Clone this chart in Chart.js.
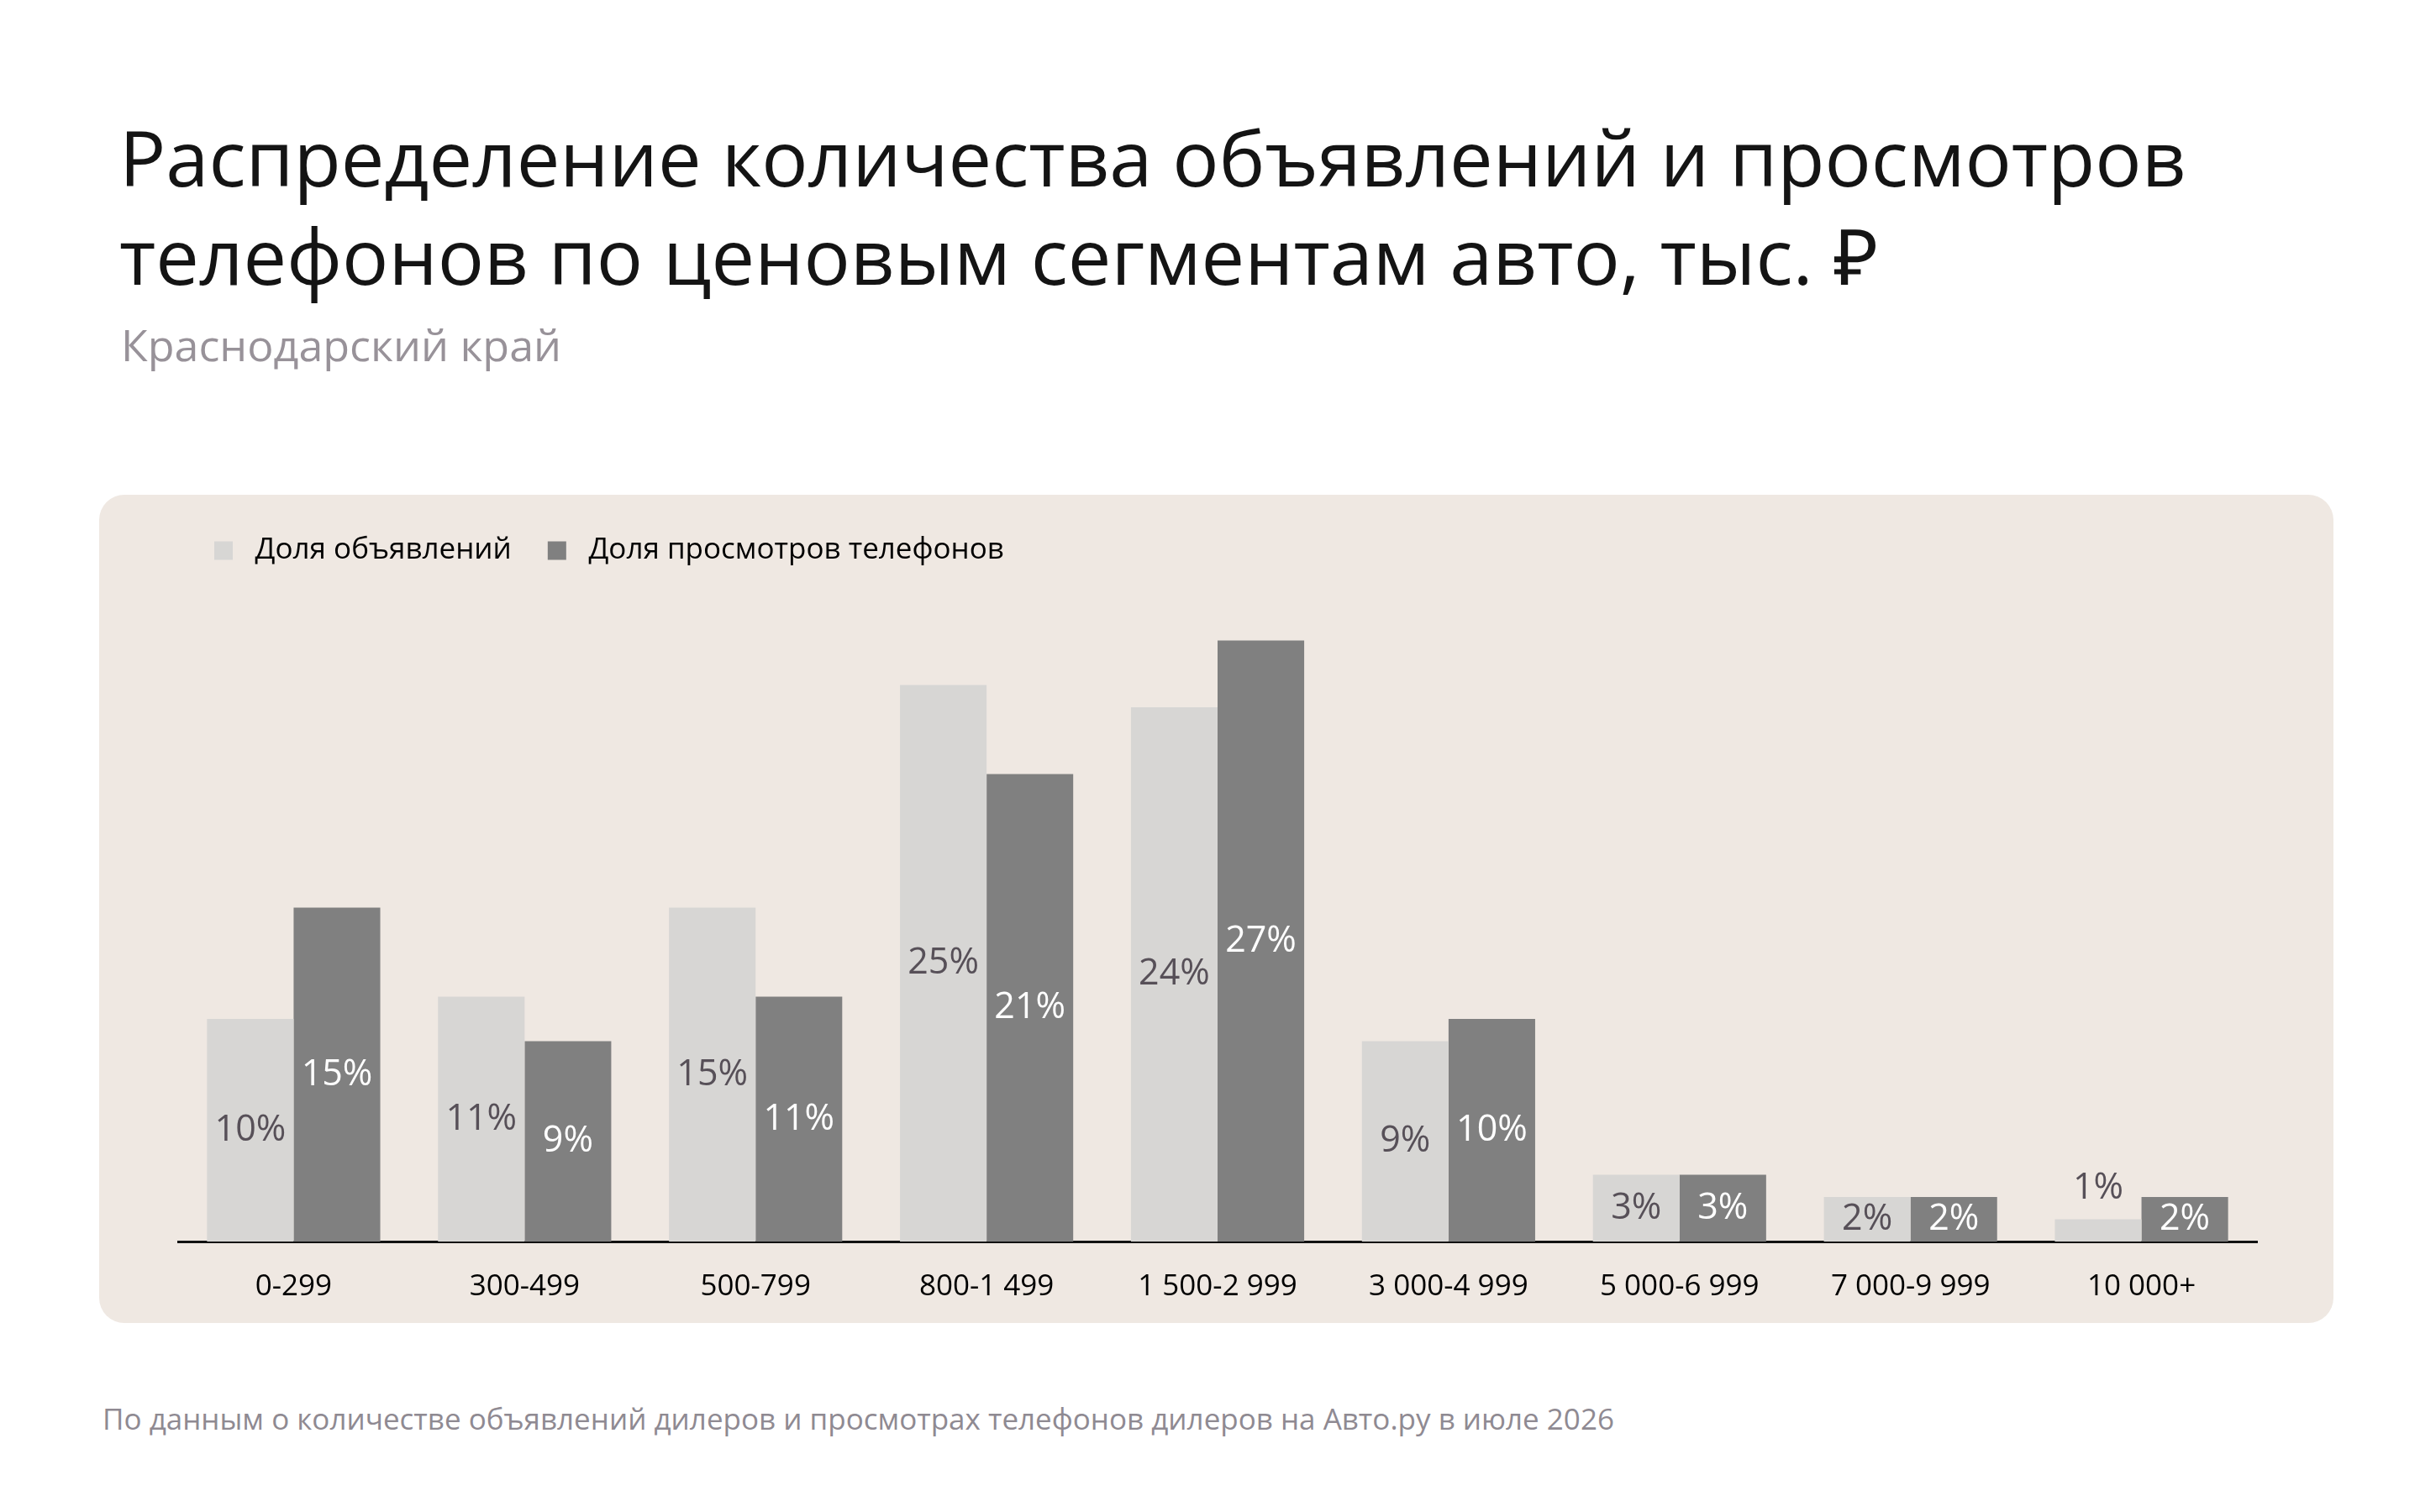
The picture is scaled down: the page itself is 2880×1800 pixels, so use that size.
<!doctype html>
<html lang="ru">
<head>
<meta charset="utf-8">
<title>Распределение объявлений и просмотров по ценовым сегментам</title>
<script src="https://cdn.jsdelivr.net/npm/chart.js"></script>
<style>
  html, body { margin: 0; padding: 0; background: #fff; }
  body { width: 2880px; height: 1800px; position: relative; overflow: hidden; font-family: 'Open Sans', sans-serif; }
  .title { position: absolute; left: 142px; top: 128px; font-size: 92px; line-height: 117px; color: #141414; white-space: nowrap; }
  .subtitle { position: absolute; left: 144px; top: 374px; font-size: 52px; line-height: 71px; color: #989299; white-space: nowrap; }
  .panel { position: absolute; left: 118px; top: 589px; width: 2659px; height: 986px; background: #efe8e2; border-radius: 30px; }
  .note { position: absolute; left: 122px; top: 1665px; font-size: 35px; color: #8f8a92; white-space: nowrap; }
</style>
</head>
<body>
<div class="title">Распределение количества объявлений и просмотров<br>телефонов по ценовым сегментам авто, тыс. ₽</div>
<div class="subtitle">Краснодарский край</div>
<div class="panel"><canvas id="chart" width="2659" height="986"></canvas></div>
<div class="note">По данным о количестве объявлений дилеров и просмотрах телефонов дилеров на Авто.ру в июле 2026</div>

<script>
// ценовые сегменты, тыс. ₽
const segments = ['0-299', '300-499', '500-799', '800-1 499', '1 500-2 999', '3 000-4 999', '5 000-6 999', '7 000-9 999', '10 000+'];
// доли, %
const listingsShare = [10, 11, 15, 25, 24, 9, 3, 2, 1];
const viewsShare = [15, 9, 11, 21, 27, 10, 3, 2, 2];
const seriesNames = ['Доля объявлений', 'Доля просмотров телефонов'];

const FONT = "'Open Sans', sans-serif";

// подписи значений внутри столбцов (или над ними, если столбец низкий)
const barLabels = {
  id: 'barLabels',
  afterDatasetsDraw(chart) {
    const ctx = chart.ctx;
    ctx.save();
    ctx.font = '43px ' + FONT;
    ctx.textAlign = 'center';
    ctx.textBaseline = 'middle';
    chart.data.datasets.forEach((ds, i) => {
      const meta = chart.getDatasetMeta(i);
      meta.data.forEach((bar, j) => {
        const h = bar.base - bar.y;
        let y = (bar.y + bar.base) / 2;
        if (h < 40) y = bar.y - 37;
        ctx.fillStyle = ds.labelColor;
        ctx.fillText(ds.data[j] + '%', bar.x, y);
      });
    });
    ctx.restore();
  }
};

new Chart(document.getElementById('chart'), {
  type: 'bar',
  data: {
    labels: segments,
    datasets: [
      { label: seriesNames[0], data: listingsShare, backgroundColor: '#d7d6d4', labelColor: '#575058' },
      { label: seriesNames[1], data: viewsShare, backgroundColor: '#808080', labelColor: '#ffffff' }
    ]
  },
  options: {
    responsive: false,
    devicePixelRatio: 1,
    animation: false,
    categoryPercentage: 0.75,
    barPercentage: 1,
    layout: { padding: { left: 94, right: 91, top: 6, bottom: -11 } },
    plugins: {
      tooltip: { enabled: false },
      legend: {
        position: 'top',
        align: 'start',
        labels: {
          boxWidth: 22,
          boxHeight: 22,
          padding: 43,
          color: '#000',
          font: { size: 35, family: FONT },
          // небольшой отступ между квадратиком и текстом
          generateLabels(chart) {
            return Chart.defaults.plugins.legend.labels.generateLabels(chart)
              .map(item => Object.assign(item, { text: ' ' + item.text }));
          }
        }
      }
    },
    scales: {
      x: {
        grid: { display: false, drawTicks: false },
        border: { display: true, color: '#111', width: 3 },
        ticks: { color: '#000', padding: 33, font: { size: 35, family: FONT } }
      },
      y: {
        min: 0,
        max: 30,
        display: false
      }
    }
  },
  plugins: [barLabels]
});
</script>
</body>
</html>
